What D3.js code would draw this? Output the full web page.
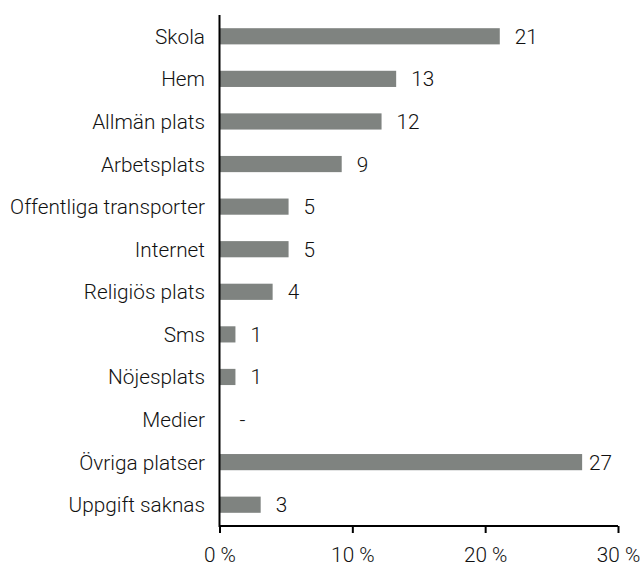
<!DOCTYPE html>
<html><head><meta charset="utf-8">
<script src="https://cdn.jsdelivr.net/npm/d3@7"></script>
<style>
body{margin:0;background:#fff;}
text{font-family:Roboto,"Liberation Sans",Arial,sans-serif;font-weight:300;fill:#111;}
</style></head>
<body>
<svg id="c" width="641" height="569"></svg>
<script>
const categories = ["Skola","Hem","Allmän plats","Arbetsplats","Offentliga transporter","Internet","Religiös plats","Sms","Nöjesplats","Medier","Övriga platser","Uppgift saknas"];
const values = [21.1,13.3,12.2,9.2,5.2,5.2,4.0,1.2,1.2,0,27.3,3.1];
const valueLabels = ["21","13","12","9","5","5","4","1","1","-","27","3"];
const xTicks = [0,10,20,30];
const xTickLabels = ["0 %","10 %","20 %","30 %"];

const svg = d3.select("#c");
const x = d3.scaleLinear().domain([0,30]).range([219.5,618]);
const y = d3.scaleBand().domain(categories).range([15,526]).paddingInner(0.62).paddingOuter(0.31);

// size font so the longest label matches the reference width
const probe = svg.append("text").attr("font-size",20).text("Offentliga transporter");
const w20 = probe.node().getComputedTextLength();
probe.remove();
const fs = 20*195/w20;

svg.selectAll("rect.bar").data(categories).join("rect")
  .attr("class","bar")
  .attr("x", x(0))
  .attr("y", d=>y(d))
  .attr("width", (d,i)=>x(values[i])-x(0))
  .attr("height", y.bandwidth())
  .attr("fill","#7f8380");

svg.selectAll("text.val").data(categories).join("text")
  .attr("class","val")
  .attr("x",(d,i)=>Math.min(x(values[i])+15, x(30)-29) + (valueLabels[i]==="-"?5:0))
  .attr("y", d=>y(d)+y.bandwidth()/2)
  .attr("dy","0.36em")
  .attr("font-size",fs)
  .text((d,i)=>valueLabels[i]);

svg.selectAll("text.cat").data(categories).join("text")
  .attr("class","cat")
  .attr("x", 205)
  .attr("y", d=>y(d)+y.bandwidth()/2)
  .attr("dy","0.36em")
  .attr("text-anchor","end")
  .attr("font-size",fs)
  .text(d=>d);

// axes
const xAxis = d3.axisBottom(x).tickValues(xTicks).tickFormat((d,i)=>xTickLabels[i]).tickSize(7).tickPadding(14);
const gx = svg.append("g").attr("transform","translate(0,526)").call(xAxis);
gx.select(".domain").attr("d",`M${x(0)},0H${x(30)}`).attr("stroke","#000").attr("stroke-width",2);
gx.selectAll(".tick line").attr("stroke","#000").attr("stroke-width",2);
gx.selectAll(".tick text").attr("font-size",fs).attr("font-family",null).attr("fill",null);

svg.append("line").attr("x1",x(0)).attr("x2",x(0)).attr("y1",15).attr("y2",527)
  .attr("stroke","#000").attr("stroke-width",2);
</script>
</body></html>
